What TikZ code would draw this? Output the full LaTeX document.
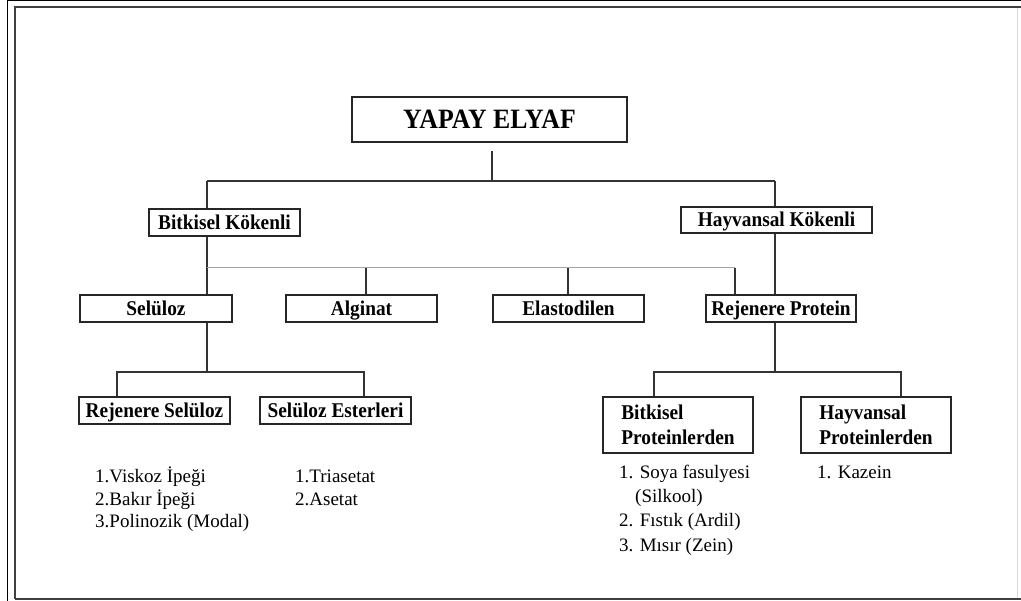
\documentclass[tikz,border=0pt]{standalone}
\usepackage{fontspec}
\setmainfont{Liberation Serif}
\newfontfamily\condserif[FakeStretch=0.92]{Liberation Serif}
\begin{document}
\begin{tikzpicture}[x=1pt,y=-1pt,
  box/.style={draw=black!85,line width=1.4pt,rectangle,inner sep=0pt,minimum height=27,
    font=\condserif\fontsize{21}{25}\selectfont\bfseries},
  one/.style={text height=15.5pt,text depth=1.5pt},
  conn/.style={draw=black!80,line width=1.5pt},
  grayline/.style={draw=black!35,line width=1pt},
  item/.style={anchor=base west,inner sep=0pt,font=\fontsize{19}{22}\selectfont}]
\useasboundingbox (0,0) rectangle (1021,601);
% frame
\draw[black,line width=1pt] (7,601) -- (7,1) -- (1021,1);
\draw[black!75,line width=2.5pt] (15,599) -- (15,7) -- (1021,7);
\draw[black!75,line width=2.5pt] (15,599) -- (1021,599);
\draw[black!15,line width=1pt] (1017,8) -- (1017,598);
% boxes
\node[box,line width=2pt,minimum width=275,minimum height=45,text height=20pt,text depth=1pt,font=\condserif\fontsize{28}{30}\selectfont\bfseries] (root) at (489.5,119.5) {YAPAY ELYAF};
\node[box,one,minimum width=151] (bk) at (224.5,222.5) {Bitkisel Kökenli};
\node[box,one,minimum width=191,minimum height=26] (hk) at (776.5,220) {Hayvansal Kökenli};
\node[box,one,minimum width=152] (sel) at (156,308.5) {Selüloz};
\node[box,one,minimum width=151] (alg) at (361.5,308.5) {Alginat};
\node[box,one,minimum width=151] (ela) at (568.5,308.5) {Elastodilen};
\node[box,one,minimum width=150] (rp) at (781,308.5) {Rejenere Protein};
\node[box,one,minimum width=151] (rs) at (154.5,410.5) {Rejenere Selüloz};
\node[box,one,minimum width=151] (se) at (335.5,410.5) {Selüloz Esterleri};
\node[box,minimum width=150,minimum height=56,align=left,line width=1.8pt] (bp) at (678,425) {Bitkisel\\Proteinlerden};
\node[box,minimum width=150,minimum height=56,align=left,line width=1.8pt] (hp) at (876,425) {Hayvansal\\Proteinlerden};
% junction coordinates
\coordinate (r0) at (492,151);
\coordinate (tL) at (207,181);
\coordinate (tM) at (492,181);
\coordinate (tR) at (775,181);
\coordinate (g0) at (207,268);
\coordinate (g1) at (366,268);
\coordinate (g2) at (568,268);
\coordinate (g3) at (735,268);
\coordinate (sL) at (117,372);
\coordinate (sM) at (207,372);
\coordinate (sR) at (364,372);
\coordinate (pL) at (654,372);
\coordinate (pM) at (775,372);
\coordinate (pR) at (901,372);
% connectors
\draw[conn] (r0) -- (tM);
\draw[conn] (tL) -- (tR);
\draw[conn] (tL) -- (tL |- bk.north);
\draw[conn] (tR) -- (tR |- hk.north);
\draw[conn] (tL |- bk.south) -- (tL |- sel.north);
\draw[grayline] (g0) -- (g3);
\draw[conn] (g1) -- (g1 |- alg.north);
\draw[conn] (g2) -- (g2 |- ela.north);
\draw[conn] (g3) -- (g3 |- rp.north);
\draw[conn] (tR |- hk.south) -- (tR |- rp.north);
\draw[conn] (sM |- sel.south) -- (sM);
\draw[conn] (sL |- rs.north) -- (sL) -- (sR) -- (sR |- se.north);
\draw[conn] (pM |- rp.south) -- (pM);
\draw[conn] (pL |- bp.north) -- (pL) -- (pR) -- (pR |- hp.north);
% lists
\node[item] (l1) at (95,483) {1.Viskoz İpeği};
\node[item] (l2) at (95,506) {2.Bakır İpeği};
\node[item] (l3) at (95,528) {3.Polinozik (Modal)};
\node[item] (m1) at (295,483) {1.Triasetat};
\node[item] (m2) at (295,506) {2.Asetat};
\node[item] (p1) at (619,479) {1. Soya fasulyesi};
\node[item] (p2) at (635,503) {(Silkool)};
\node[item] (p3) at (619,527) {2. Fıstık (Ardil)};
\node[item] (p4) at (619,551) {3. Mısır (Zein)};
\node[item] (k1) at (817,479) {1. Kazein};
\end{tikzpicture}
\end{document}
